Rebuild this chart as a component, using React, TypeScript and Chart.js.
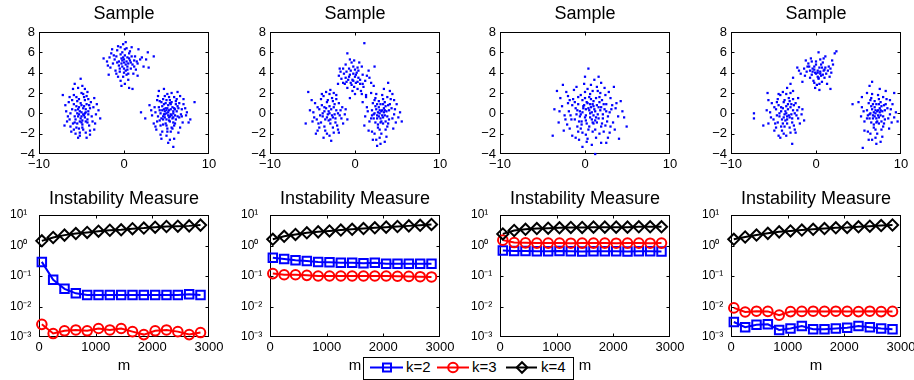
import React, { useEffect, useRef } from 'react';
import { Chart, registerables } from 'chart.js';

Chart.register(...registerables);

const FONT = "'Liberation Sans', Arial, Helvetica, sans-serif";
Chart.defaults.font.family = FONT;
Chart.defaults.color = '#000';

// ---------------- Sample scatter data (x, y pairs, flat) ----------------
const s1a = [
  -5.0,0.1, -4.6,-0.4, -5.3,0.6, -4.2,0.2, -5.8,-0.3, -4.9,-1.1, -5.5,1.2, -4.4,0.9, -6.1,0.4, -5.2,-0.8,
  -3.8,-0.3, -4.7,1.6, -5.6,-1.4, -6.4,-0.6, -4.1,-1.2, -5.0,2.0, -3.6,0.6, -5.9,1.8, -4.5,-1.9, -6.8,0.2,
  -5.3,-0.1, -4.8,0.5, -5.1,-0.5, -4.3,-0.6, -5.7,0.3, -4.6,1.3, -6.0,-1.0, -3.9,1.1, -5.4,2.5, -4.0,-1.7,
  -6.5,1.1, -5.2,-2.2, -3.3,-0.1, -7.2,1.8, -4.9,2.7, -6.2,-1.8, -3.4,-1.0, -5.8,2.9, -4.4,-2.4, -7.0,-1.2,
  -5.5,0.0, -4.7,-0.2, -5.0,0.8, -4.2,-0.1, -5.9,0.9, -4.5,0.4, -5.3,-1.5, -6.3,0.0, -4.0,0.5, -5.6,1.6,
  -3.0,0.3, -4.8,-1.6, -6.6,-0.3, -4.3,2.1, -5.1,3.4, -3.5,-1.6, -6.9,0.8, -5.7,-2.0, -2.8,-0.5, -6.0,2.4,
  -4.6,0.0, -5.4,0.4, -4.9,-0.7, -5.7,-0.6, -4.4,1.7,
  -5.2,0.2, -4.8,-0.1, -5.4,-0.3, -4.5,0.1, -5.0,-0.3, -5.6,0.7, -4.7,0.7, -5.1,1.0, -4.3,-0.9, -5.8,-0.9,
  -4.1,0.8, -6.1,1.3, -5.3,1.4, -4.9,-1.4, -5.5,-1.0, -3.7,-0.8, -6.3,-1.3, -4.6,2.4, -5.2,-1.9, -3.5,1.5,
  -6.7,-0.8, -4.0,-2.1, -5.9,-1.6, -4.8,1.9, -3.2,0.9, -6.4,1.6, -5.4,-2.4, -4.2,1.4, -5.0,-0.9, -4.5,-0.8,
];
const s1b = [
  0.0,5.0, 0.4,4.6, -0.3,5.4, 0.7,5.2, -0.6,4.7, 0.2,4.2, -0.9,5.6, 1.0,4.8, -0.2,6.0, 0.5,3.9,
  -1.3,4.9, 1.3,5.6, 0.1,5.7, -0.5,4.1, 0.8,4.4, -1.1,5.3, 1.6,4.9, -0.1,3.6, 0.3,6.4, -1.6,4.5,
  0.6,5.9, -0.8,6.2, 1.9,5.3, -0.4,3.2, 1.1,3.9, -2.0,5.1, 0.2,7.0, 2.3,4.6, -1.4,6.3, 0.9,6.5,
  -0.2,4.6, 0.3,5.1, -0.6,5.1, 0.5,4.9, 0.0,4.4, -0.3,4.9, 0.8,5.0, -1.0,4.2, 1.4,4.3, 0.1,2.9,
  -2.4,5.4, 2.8,6.0, 3.5,5.6, 2.9,4.5, -0.1,6.8, 1.7,6.3, -1.8,3.8, 0.6,2.5, -0.7,3.6, 1.2,5.2,
  0.4,5.5, -0.4,5.8, 0.0,4.0, 1.0,2.4, -1.5,5.9,
  0.2,4.8, -0.2,5.2, 0.6,5.4, -0.5,4.4, 0.4,4.3, -0.8,5.0, 0.9,5.6, -0.1,5.5, 0.3,3.8, -1.2,5.7,
  1.5,5.1, -0.4,6.5, 0.7,6.1, -1.9,4.7, 2.1,5.5, -0.9,3.9, 0.1,6.3, 1.2,4.6, -0.7,6.6, 0.5,3.3,
  2.6,5.3, -1.7,5.5, 1.6,3.7, -0.3,2.7, 0.0,5.3,
];
const s1c = [
  5.0,0.0, 5.4,-0.3, 4.7,0.4, 5.8,0.2, 4.4,-0.5, 5.2,0.8, 6.1,-0.6, 4.9,-1.0, 5.6,1.1, 4.2,0.3,
  6.4,0.5, 5.1,-1.5, 4.6,1.4, 5.9,-1.2, 3.9,-0.8, 6.7,-0.1, 5.3,1.6, 4.5,-1.8, 6.2,1.4, 3.6,0.6,
  5.5,-0.1, 4.8,0.2, 5.0,-0.6, 5.7,0.6, 4.3,0.0, 5.3,0.3, 6.0,-0.2, 4.6,-0.3, 5.5,0.9, 4.9,1.0,
  7.0,0.9, 5.0,-2.2, 4.0,1.7, 6.6,-1.4, 3.3,-0.2, 7.4,0.1, 5.6,2.0, 4.4,-2.5, 6.9,-0.9, 3.0,0.8,
  5.2,-2.9, 6.3,2.1, 3.8,-1.6, 7.8,-0.6, 4.1,2.2, 5.9,-2.5, 2.5,-0.5, 8.3,1.1, 5.8,-3.3, 4.7,2.4,
  5.1,0.5, 5.4,-0.8, 4.8,-0.4, 6.0,0.4, 4.5,0.7, 5.7,-0.5, 5.2,-0.2, 4.9,0.5, 6.3,-0.3, 4.0,-0.3,
  6.5,1.0, 5.4,1.3, 4.3,-1.2, 6.0,-1.0, 3.7,0.1, 7.2,0.5, 5.1,1.9, 5.5,-1.8, 6.8,-0.3, 3.5,-1.0,
  7.6,-0.9, 2.0,0.1, 4.2,1.2, 6.1,0.9, 5.6,-1.4, 4.6,-1.1, 5.3,-0.4, 5.0,1.3, 5.8,0.0, 4.7,-0.1,
  5.2,0.1, 5.6,-0.2, 4.8,-0.1, 5.9,0.5, 4.5,0.3, 5.3,-0.7, 6.2,0.2, 4.7,0.9, 5.0,-1.2, 5.8,-0.9,
  6.5,-0.4, 4.2,-0.7, 5.4,1.0, 4.4,1.1, 6.1,1.2, 5.7,-1.5, 4.1,0.6, 6.8,0.4, 5.1,-1.8, 3.9,1.3,
  7.3,-0.2, 4.8,1.7, 6.4,-1.9, 5.9,1.6, 3.2,0.3, 5.4,-2.6, 7.0,1.4, 4.3,-2.1, 6.6,1.7, 3.7,-1.3,
  5.5,0.4, 5.0,0.3, 5.8,-0.4, 4.6,-0.6, 6.3,0.7,
];
const s2a = [
  -3.0,0.0, -2.6,-0.4, -3.4,0.5, -2.2,0.3, -3.8,-0.3, -2.9,-1.0, -3.3,1.1, -2.4,0.9, -4.2,0.4, -3.1,-0.7,
  -1.8,-0.2, -2.7,1.5, -3.6,-1.3, -4.5,-0.6, -2.1,-1.2, -3.0,1.9, -1.5,0.6, -4.0,1.4, -2.5,-1.9, -4.9,0.1,
  -3.2,-0.1, -2.8,0.4, -3.5,-0.6, -2.3,-0.5, -3.9,0.8, -2.6,1.2, -4.3,-1.0, -1.9,1.0, -3.4,2.1, -2.0,-1.6,
  -4.7,1.0, -3.3,-2.0, -1.2,-0.1, -5.3,0.3, -2.9,2.3, -4.4,-1.7, -1.4,-1.0, -5.8,-1.0, -2.8,-2.7, -5.0,-0.8,
  -3.6,0.2, -2.4,-0.1, -3.0,0.7, -4.1,-0.2, -1.7,0.3, -3.7,1.7, -5.5,2.1, -0.9,-0.6, -4.6,-2.0, -2.2,1.8,
  -3.1,0.2, -2.7,-0.2, -3.3,-0.4, -2.5,0.6, -3.6,0.6, -2.9,-0.6, -3.8,0.0, -2.3,-0.9, -3.2,1.3, -4.0,-0.9,
  -2.0,0.0, -4.4,0.6, -2.6,-1.4, -3.5,-1.7, -1.6,-0.5, -3.9,1.9, -2.2,1.4, -4.8,-0.4, -3.0,-2.2, -1.1,0.4,
  -5.1,1.3, -3.7,-2.4, -2.5,2.0, -4.2,-1.4, -1.9,-1.9,
];
const s2b = [
  -0.3,3.3, 0.1,3.0, -0.7,3.6, 0.4,3.5, -1.0,3.1, -0.1,2.6, -1.3,3.9, 0.6,2.9, -0.5,4.2, 0.2,4.0,
  -1.6,3.4, 0.9,3.8, -0.2,4.6, -0.9,2.5, 0.7,2.2, -1.4,4.4, 1.2,3.2, 0.0,1.9, -0.4,5.0, -1.9,3.7,
  0.3,4.5, -1.1,4.8, 1.6,4.2, -0.6,1.5, 1.0,2.6, 1.9,3.0, -0.1,5.2, 2.3,4.6, -1.7,4.1, 0.5,5.0,
  -0.5,3.0, 0.0,3.6, -0.8,3.3, 0.3,2.4, -0.2,3.9, 0.8,4.6, -1.2,2.9, 1.3,1.8, -0.9,5.9, 1.1,6.9,
  -0.2,3.2, 0.3,3.1, -0.6,3.8, 0.1,3.8, -0.4,2.8, -1.1,3.5, 0.6,3.3, -0.7,4.4, 0.9,2.9, -1.4,3.0,
  0.4,4.2, -0.3,2.2, 1.4,3.7, -1.0,4.1, 0.0,4.3, -1.8,4.4, 0.8,1.9, -0.6,5.3, 1.7,3.5, -2.0,2.9,
];
const s2c = [
  2.9,0.0, 3.3,-0.4, 2.5,0.4, 3.7,0.2, 2.2,-0.5, 3.0,0.9, 4.0,-0.6, 2.7,-1.1, 3.5,1.1, 2.0,0.3,
  4.3,0.5, 2.9,-1.6, 2.4,1.5, 3.8,-1.3, 1.7,-0.8, 4.6,-0.1, 3.2,1.8, 2.3,-2.0, 4.2,1.4, 1.4,0.6,
  3.1,0.2, 2.6,-0.2, 3.4,0.5, 2.8,0.6, 3.6,-0.8, 2.4,-0.9, 3.9,0.8, 2.1,1.0, 3.0,-0.5, 3.3,-1.0,
  4.9,0.9, 2.9,-2.4, 1.9,2.0, 4.5,-1.5, 1.2,-0.3, 5.3,0.1, 3.4,2.4, 2.5,-2.6, 4.8,-0.9, 0.9,1.1,
  3.0,-3.0, 4.1,2.2, 1.6,-1.7, 5.5,-0.8, 2.2,2.7, 3.7,-2.3, 3.9,3.0, 2.6,-3.2, 4.4,1.9, 1.1,-1.2,
  3.2,0.3, 2.7,0.1, 3.5,-0.2, 2.3,0.0, 4.0,0.3, 3.1,-0.8, 2.8,1.2, 3.6,0.7, 2.0,-0.2, 3.3,1.4,
  2.9,0.3, 3.2,-0.2, 2.6,-0.5, 3.5,0.3, 2.4,0.7, 3.0,-0.9, 3.8,-0.3, 2.2,-0.1, 3.3,0.9, 2.7,-1.4,
  4.1,0.9, 1.9,-0.5, 3.6,-1.6, 2.5,1.9, 4.4,-0.5, 1.5,0.2, 3.1,-2.0, 4.7,0.4, 2.0,-1.8, 3.8,1.6,
  2.1,-2.6, 5.1,-0.4, 3.5,-2.8, 1.3,1.6, 4.6,1.3, 2.8,-0.3, 3.4,0.1, 2.6,0.9, 3.9,-1.0, 2.3,1.3,
];
const s3 = [
  0.5,0.3, 1.0,-0.2, -0.1,0.8, 1.6,0.6, -0.6,-0.3, 0.7,1.4, 2.1,-0.5, 0.2,-1.0, 1.3,1.5, -1.1,0.5,
  2.5,0.9, 0.4,-1.6, -0.5,1.8, 1.9,-1.3, -1.6,-0.6, 2.9,0.1, 0.9,2.2, -0.3,-1.9, 2.4,1.8, -2.0,1.0,
  0.6,0.0, 0.1,0.4, 1.2,0.2, -0.3,0.1, 0.8,-0.6, 1.5,-0.1, 0.0,-0.4, 0.9,0.9, -0.8,0.9, 1.8,0.3,
  3.3,-0.9, -0.9,-1.3, 1.4,2.6, 3.0,1.5, -2.4,-0.2, 1.7,-2.0, -1.3,2.3, 3.6,0.5, -0.1,2.9, 2.2,-1.8,
  -2.7,0.7, 0.3,-2.5, 3.9,-0.3, -1.8,-1.5, 1.1,3.3, 2.7,-2.4, -2.2,2.1, 4.2,1.2, -0.7,-2.6, 0.8,-3.1,
  0.2,1.1, 1.0,0.7, -0.4,-0.8, 1.7,1.1, 0.5,-1.3, -1.0,-0.1, 2.3,0.4, 0.6,1.9, -0.2,0.5, 1.4,-0.9,
  -1.4,1.4, 2.0,1.3, -0.5,-1.5, 2.6,-0.8, 0.3,2.4, 1.2,-1.6, -1.9,0.2, 3.2,0.8, 0.1,-2.1, 2.8,2.1,
  -3.1,-0.9, 4.6,-0.4, -2.9,1.5, 1.9,3.0, -1.5,-2.2, 3.5,-1.6, -3.6,0.4, 0.4,4.4, 2.5,-2.9, 4.9,-1.3,
  -3.8,-2.2, 1.2,-4.0, -2.6,2.8, 3.4,2.6, -0.3,-3.3, 0.0,3.6, -2.1,-1.1, 4.0,-2.5, -3.3,2.2, 1.6,3.6,
  0.7,0.6, 1.3,-0.4, -0.6,0.2, 2.1,-0.1, 0.0,1.5, 0.9,-0.9, -1.2,-0.6, 1.8,2.0, 2.4,-1.2, -0.8,1.6,
  0.4,0.5, 0.8,0.1, 0.1,-0.2, 1.1,0.4, -0.2,0.7, 0.6,-0.4, 1.4,0.8, -0.5,-0.1, 0.3,1.0, 1.0,-1.0,
  1.9,0.6, -0.9,0.3, 0.5,1.6, 1.6,-0.5, -0.4,-1.1, 2.2,0.9, -1.2,1.1, 0.9,-1.8, 2.7,-0.3, -1.7,-0.2,
  0.0,2.1, 1.5,2.2, -0.8,-1.8, 2.0,-1.0, -1.5,0.8, 3.1,0.4, 0.7,2.8, -2.3,-0.6, 1.3,-2.4, 3.0,-1.3,
  -2.0,1.7, 0.2,-2.8, 3.7,1.0, -1.1,-2.4, 2.3,2.5, -2.5,-1.7, 4.4,0.2, -1.0,2.6, 1.9,-2.9, -3.0,0.2,
  0.6,0.9, 1.2,-0.7, -0.3,1.3, 2.5,0.2, 0.1,-0.7, 1.7,1.6, -0.7,-0.8, 2.9,-1.9, -1.8,1.3, 1.0,1.2,
];
const s4a = [
  -3.5,0.0, -3.1,-0.4, -3.9,0.5, -2.7,0.3, -4.3,-0.3, -3.4,-1.0, -3.8,1.1, -2.9,0.9, -4.7,0.4, -3.6,-0.7,
  -2.3,-0.2, -3.2,1.5, -4.1,-1.3, -5.0,-0.6, -2.6,-1.2, -3.5,1.9, -2.0,0.6, -4.5,1.4, -3.0,-1.9, -5.4,0.1,
  -3.7,-0.1, -3.3,0.4, -4.0,-0.6, -2.8,-0.5, -4.4,0.8, -3.1,1.2, -4.8,-1.0, -2.4,1.0, -3.9,2.1, -2.5,-1.6,
  -5.2,1.0, -3.8,-2.0, -1.7,-0.1, -5.8,0.3, -3.4,2.5, -4.9,-1.7, -1.9,-1.0, -7.3,0.0, -7.3,-0.5, -5.6,-1.0,
  -4.1,0.2, -2.9,-0.1, -3.5,0.7, -4.6,-0.2, -2.2,0.3, -4.2,1.8, -5.7,2.0, -1.4,-0.7, -2.8,-3.0, -2.7,2.2,
  -4.4,-2.2, -3.0,2.9, -6.2,-1.2, -2.1,1.5, -3.7,-1.3,
  -3.6,0.2, -3.2,-0.2, -3.8,-0.4, -3.0,0.6, -4.1,0.6, -3.4,-0.6, -4.3,0.0, -2.8,-0.9, -3.7,1.3, -4.5,-0.9,
  -2.5,0.0, -4.9,0.6, -3.1,-1.4, -4.0,-1.7, -2.1,-0.5, -4.4,1.9, -2.7,1.4, -5.3,-0.4, -3.5,-2.2, -1.6,0.4,
  -5.6,1.3, -4.2,-2.4, -3.0,2.0, -4.7,-1.4, -2.4,-1.9, -3.3,0.9, -3.9,-1.0, -2.6,0.8, -4.6,1.1, -3.4,-0.3,
];
const s4b = [
  0.2,4.0, 0.6,3.7, -0.2,4.3, 0.9,4.2, -0.5,3.8, 0.3,3.4, -0.8,4.6, 1.2,3.9, 0.0,4.8, 0.7,3.1,
  -1.1,4.1, 1.5,4.6, 0.4,4.5, -0.3,3.2, 1.0,3.5, -0.9,4.9, 1.8,4.0, 0.1,2.8, 0.5,5.3, -1.4,4.4,
  0.8,5.0, -0.6,5.4, 2.0,4.8, -0.1,2.5, 1.3,2.9, -1.8,3.9, 0.3,6.0, 2.2,5.9, -1.2,5.2, 1.1,5.6,
  0.0,3.9, 0.5,4.1, -0.4,4.1, 0.7,4.5, 0.2,3.6, -0.2,4.6, 1.0,4.3, -0.7,3.5, 1.6,3.6, 0.4,2.3,
  -2.2,4.5, -2.7,3.5, 2.4,6.1, -1.6,3.1, 1.7,2.4,
  0.2,4.2, 0.5,3.9, -0.1,4.0, 0.8,3.8, -0.4,4.4, 0.3,3.5, -0.7,4.2, 1.1,4.5, 0.0,5.1, 0.6,4.8,
  -1.0,4.6, 1.4,4.2, 0.4,2.9, -0.5,5.1, 1.7,4.4, -1.3,3.7, 0.9,5.4, -0.2,3.0, 1.9,5.2, -2.0,4.2,
];
const s4c = [
  7.0,0.0, 7.4,-0.4, 6.6,0.4, 7.8,0.2, 6.3,-0.5, 7.1,0.9, 8.1,-0.6, 6.8,-1.1, 7.6,1.1, 6.0,0.3,
  8.4,0.5, 7.0,-1.6, 6.5,1.5, 7.9,-1.3, 5.7,-0.8, 8.7,-0.1, 7.3,1.8, 6.4,-2.0, 8.3,1.4, 5.4,0.6,
  7.2,0.2, 6.7,-0.2, 7.5,0.5, 6.9,0.6, 7.7,-0.8, 6.5,-0.9, 8.0,0.8, 6.2,1.0, 7.1,-0.5, 7.4,-1.0,
  9.0,0.9, 7.0,-2.4, 6.0,2.0, 8.6,-1.5, 5.3,-0.3, 9.4,0.1, 7.5,2.4, 6.6,-2.6, 8.9,-0.9, 5.0,1.1,
  7.1,-3.0, 8.2,2.2, 5.7,-1.7, 9.6,-0.8, 6.3,2.7, 7.8,-2.3, 6.6,3.1, 5.5,-3.4, 9.2,2.0, 4.3,0.9,
  7.3,0.3, 6.8,0.1, 7.6,-0.2, 6.4,0.0, 8.1,0.3, 7.2,-0.8, 6.9,1.2, 7.7,0.7, 6.1,-0.2, 7.4,1.4,
  7.0,0.3, 7.3,-0.2, 6.7,-0.5, 7.6,0.3, 6.5,0.7, 7.1,-0.9, 7.9,-0.3, 6.3,-0.1, 7.4,0.9, 6.8,-1.4,
  8.2,0.9, 6.0,-0.5, 7.7,-1.6, 6.6,1.9, 8.5,-0.5, 5.6,0.2, 7.2,-2.0, 8.8,0.4, 6.1,-1.8, 7.9,1.6,
  6.2,-2.6, 9.2,-0.4, 7.6,-2.8, 5.4,1.6, 8.7,1.3, 6.9,-0.3, 7.5,0.1, 6.7,0.9, 8.0,-1.0, 6.4,1.3,
];

// ---------------- Instability measure data ----------------
const mValues = [50, 250, 450, 650, 850, 1050, 1250, 1450, 1650, 1850, 2050, 2250, 2450, 2650, 2850];

const p1k2 = [0.29, 0.075, 0.038, 0.027, 0.024, 0.024, 0.024, 0.024, 0.024, 0.024, 0.024, 0.024, 0.024, 0.025, 0.024];
const p1k3 = [0.0026, 0.0013, 0.0016, 0.0017, 0.0016, 0.0019, 0.0017, 0.0019, 0.0015, 0.0012, 0.0016, 0.0017, 0.0015, 0.0012, 0.0014];
const p1k4 = [1.42, 1.83, 2.19, 2.46, 2.69, 2.95, 3.16, 3.27, 3.55, 3.72, 3.98, 4.2, 4.3, 4.4, 4.66];

const p2k2 = [0.40, 0.36, 0.33, 0.31, 0.29, 0.28, 0.27, 0.27, 0.26, 0.27, 0.25, 0.25, 0.25, 0.25, 0.25];
const p2k3 = [0.12, 0.11, 0.11, 0.105, 0.10, 0.10, 0.10, 0.10, 0.10, 0.10, 0.10, 0.098, 0.097, 0.095, 0.093];
const p2k4 = [1.6, 2.0, 2.3, 2.6, 2.8, 3.0, 3.2, 3.4, 3.6, 3.8, 4.0, 4.2, 4.4, 4.6, 4.9];

const p3k2 = [0.68, 0.66, 0.66, 0.65, 0.65, 0.66, 0.65, 0.64, 0.65, 0.65, 0.65, 0.64, 0.65, 0.65, 0.64];
const p3k3 = [1.5, 1.25, 1.22, 1.2, 1.2, 1.2, 1.19, 1.2, 1.2, 1.2, 1.19, 1.2, 1.2, 1.19, 1.2];
const p3k4 = [2.4, 3.1, 3.4, 3.6, 3.7, 3.8, 3.9, 3.9, 4.0, 4.0, 4.0, 4.0, 4.1, 4.1, 4.1];

const p4k2 = [0.0031, 0.0021, 0.0025, 0.0026, 0.0017, 0.0019, 0.0023, 0.0018, 0.0018, 0.0019, 0.0020, 0.0023, 0.0021, 0.0019, 0.0018];
const p4k3 = [0.0090, 0.0066, 0.0070, 0.0069, 0.0052, 0.0068, 0.0069, 0.0070, 0.0069, 0.0070, 0.0069, 0.0068, 0.0070, 0.0068, 0.0069];
const p4k4 = [1.6, 1.9, 2.2, 2.5, 2.8, 3.0, 3.2, 3.4, 3.6, 3.8, 3.9, 4.1, 4.3, 4.5, 4.7];

const logTickValues = [0.001, 0.01, 0.1, 1, 10];
const logTickLabels = ['10\u207B\u00B3', '10\u207B\u00B2', '10\u207B\u00B9', '10\u2070', '10\u00B9'];
const mTickValues = [0, 1000, 2000, 3000];
const seriesLabels = ['k=2', 'k=3', 'k=4'];

const sampleClusters = [[s1a, s1b, s1c], [s2a, s2b, s2c], [s3], [s4a, s4b, s4c]];
const instability = [[p1k2, p1k3, p1k4], [p2k2, p2k3, p2k4], [p3k2, p3k3, p3k4], [p4k2, p4k3, p4k4]];

// ---------------- layout / style ----------------
const COL_LEFT = [39, 270, 500, 731];
const AREA_W = 170;
const AREA_H = 122;
const TOP_PAD_L = 36;
const BOT_PAD_L = 29;

const BLUE = '#0000ff';
const RED = '#ff0000';
const BLACK = '#000000';

const toPoints = (flat: number[]) => {
  const out: { x: number; y: number }[] = [];
  for (let i = 0; i + 1 < flat.length; i += 2) out.push({ x: flat[i], y: flat[i + 1] });
  return out;
};

const minus = (v: number | string) => String(v).replace('-', '\u2212');

const boxPlugin = {
  id: 'matlabBox',
  beforeDatasetsDraw(chart: any) {
    const { ctx, chartArea: a, scales } = chart;
    const l = Math.round(a.left) + 0.5;
    const r = Math.round(a.right) - 0.5;
    const t = Math.round(a.top) + 0.5;
    const b = Math.round(a.bottom) - 0.5;
    ctx.save();
    ctx.strokeStyle = '#000';
    ctx.lineWidth = 1;
    ctx.strokeRect(l, t, r - l, b - t);
    const tl = 3;
    ctx.beginPath();
    for (const tk of scales.x.ticks) {
      const px = Math.round(scales.x.getPixelForValue(tk.value)) + 0.5;
      if (px <= l + 1 || px >= r - 1) continue;
      ctx.moveTo(px, b); ctx.lineTo(px, b - tl);
      ctx.moveTo(px, t); ctx.lineTo(px, t + tl);
    }
    for (const tk of scales.y.ticks) {
      const py = Math.round(scales.y.getPixelForValue(tk.value)) + 0.5;
      if (py <= t + 1 || py >= b - 1) continue;
      ctx.moveTo(l, py); ctx.lineTo(l + tl, py);
      ctx.moveTo(r, py); ctx.lineTo(r - tl, py);
    }
    ctx.stroke();
    ctx.restore();
  },
};

function sampleConfig(clusters: number[][]) {
  const pts = clusters.flatMap((c) => toPoints(c));
  return {
    type: 'scatter',
    data: {
      datasets: [
        {
          data: pts,
          pointStyle: 'rect',
          pointRadius: 1.6,
          pointBorderWidth: 0,
          pointBackgroundColor: BLUE,
          backgroundColor: BLUE,
          borderColor: BLUE,
          clip: false,
        },
      ],
    },
    options: {
      responsive: false,
      maintainAspectRatio: false,
      animation: false,
      events: [],
      layout: { padding: { left: 0, right: TOP_PAD_L, top: 0, bottom: 0 } },
      plugins: {
        legend: { display: false },
        tooltip: { enabled: false },
        title: {
          display: true,
          fullSize: false,
          text: 'Sample',
          color: '#000',
          font: { size: 18, weight: 'normal', lineHeight: '20px' },
          padding: { top: 4, bottom: 8 },
        },
      },
      scales: {
        x: {
          type: 'linear',
          min: -10,
          max: 10,
          grid: { display: false, drawTicks: false },
          border: { display: false },
          ticks: { stepSize: 10, color: '#000', font: { size: 13 }, padding: 3, maxRotation: 0, callback: (v: number) => minus(v) },
          afterFit: (s: any) => { s.height = 20; },
        },
        y: {
          type: 'linear',
          min: -4,
          max: 8,
          grid: { display: false, drawTicks: false },
          border: { display: false },
          ticks: { stepSize: 2, color: '#000', font: { size: 13 }, padding: 4, callback: (v: number) => minus(v) },
          afterFit: (s: any) => { s.width = TOP_PAD_L; },
        },
      },
    },
    plugins: [boxPlugin],
  };
}

function lineDataset(label: string, values: number[], color: string, style: string, radius: number, order: number) {
  return {
    label,
    data: values.map((v, i) => ({ x: mValues[i], y: v })),
    borderColor: color,
    backgroundColor: color,
    borderWidth: 2,
    pointStyle: style,
    pointRadius: radius,
    pointBorderWidth: 2,
    pointBorderColor: color,
    pointBackgroundColor: 'rgba(0,0,0,0)',
    fill: false,
    tension: 0,
    clip: false,
    order,
  };
}

function instabilityConfig(series: number[][]) {
  return {
    type: 'line',
    data: {
      datasets: [
        lineDataset(seriesLabels[0], series[0], BLUE, 'rect', 6.0, 2),
        lineDataset(seriesLabels[1], series[1], RED, 'circle', 4.8, 1),
        lineDataset(seriesLabels[2], series[2], BLACK, 'rectRot', 5.6, 0),
      ],
    },
    options: {
      responsive: false,
      maintainAspectRatio: false,
      animation: false,
      events: [],
      layout: { padding: { left: 0, right: BOT_PAD_L, top: 0, bottom: 0 } },
      plugins: {
        legend: { display: false },
        tooltip: { enabled: false },
        title: {
          display: true,
          fullSize: false,
          text: 'Instability Measure',
          color: '#000',
          font: { size: 18, weight: 'normal', lineHeight: '20px' },
          padding: { top: 9, bottom: 6 },
        },
      },
      scales: {
        x: {
          type: 'linear',
          min: 0,
          max: 3000,
          grid: { display: false, drawTicks: false },
          border: { display: false },
          afterBuildTicks: (s: any) => { s.ticks = mTickValues.map((v) => ({ value: v })); },
          ticks: { color: '#000', font: { size: 13 }, padding: 3, maxRotation: 0, autoSkip: false, callback: (v: number) => String(v) },
          title: { display: true, text: 'm', color: '#000', font: { size: 15, weight: 'normal' }, padding: { top: 0, bottom: 5 } },
          afterFit: (s: any) => { s.height = 43; },
        },
        y: {
          type: 'logarithmic',
          min: 0.001,
          max: 10,
          grid: { display: false, drawTicks: false },
          border: { display: false },
          afterBuildTicks: (s: any) => { s.ticks = logTickValues.map((v) => ({ value: v })); },
          ticks: {
            color: '#000',
            font: { size: 12 },
            padding: 3,
            crossAlign: 'far',
            autoSkip: false,
            callback: (_v: number, i: number) => logTickLabels[i],
          },
          afterFit: (s: any) => { s.width = BOT_PAD_L; },
        },
      },
    },
    plugins: [boxPlugin],
  };
}

function Panel({ config, left, top, width, height }: { config: any; left: number; top: number; width: number; height: number }) {
  const ref = useRef<HTMLCanvasElement>(null);
  useEffect(() => {
    const chart = new Chart(ref.current as HTMLCanvasElement, config);
    return () => chart.destroy();
  }, []);
  return (
    <canvas
      ref={ref}
      width={width}
      height={height}
      style={{ position: 'absolute', left, top, width, height, display: 'block' }}
    />
  );
}

function Legend() {
  const entries = [
    { color: BLUE, x0: 7, x1: 40, cx: 24, tx: 43, marker: 'rect' },
    { color: RED, x0: 74, x1: 106, cx: 90, tx: 109, marker: 'circle' },
    { color: BLACK, x0: 143, x1: 174, cx: 159, tx: 178, marker: 'diamond' },
  ];
  const ly = 10.5;
  return (
    <svg
      width={211}
      height={23}
      style={{ position: 'absolute', left: 363, top: 357, display: 'block' }}
    >
      <rect x={0.5} y={0.5} width={210} height={22} fill="#fff" stroke="#000" strokeWidth={1} />
      {entries.map((e, i) => (
        <g key={i}>
          <line x1={e.x0} y1={ly} x2={e.x1} y2={ly} stroke={e.color} strokeWidth={2} />
          {e.marker === 'rect' && (
            <rect x={e.cx - 4} y={ly - 4} width={8} height={8} fill="none" stroke={e.color} strokeWidth={2} />
          )}
          {e.marker === 'circle' && <circle cx={e.cx} cy={ly} r={4.8} fill="none" stroke={e.color} strokeWidth={2} />}
          {e.marker === 'diamond' && (
            <polygon
              points={`${e.cx - 5.3},${ly} ${e.cx},${ly - 5.3} ${e.cx + 5.3},${ly} ${e.cx},${ly + 5.3}`}
              fill="none"
              stroke={e.color}
              strokeWidth={2}
            />
          )}
          <text x={e.tx} y={15} fontFamily={FONT} fontSize={15} fill="#000">
            {seriesLabels[i]}
          </text>
        </g>
      ))}
    </svg>
  );
}

export default function App() {
  const topH = 32 + AREA_H + 20;
  const botTop = 215 - 35;
  const botH = 35 + AREA_H + 43;
  return (
    <div
      style={{
        position: 'absolute',
        left: 0,
        top: 0,
        width: 914,
        height: 380,
        background: '#fff',
        overflow: 'hidden',
        fontFamily: FONT,
      }}
    >
      {COL_LEFT.map((cl, i) => (
        <Panel
          key={'s' + i}
          config={sampleConfig(sampleClusters[i])}
          left={cl - TOP_PAD_L}
          top={0}
          width={TOP_PAD_L + AREA_W + TOP_PAD_L}
          height={topH}
        />
      ))}
      {COL_LEFT.map((cl, i) => (
        <Panel
          key={'m' + i}
          config={instabilityConfig(instability[i])}
          left={cl - BOT_PAD_L}
          top={botTop}
          width={BOT_PAD_L + AREA_W + BOT_PAD_L}
          height={botH}
        />
      ))}
      <Legend />
    </div>
  );
}
